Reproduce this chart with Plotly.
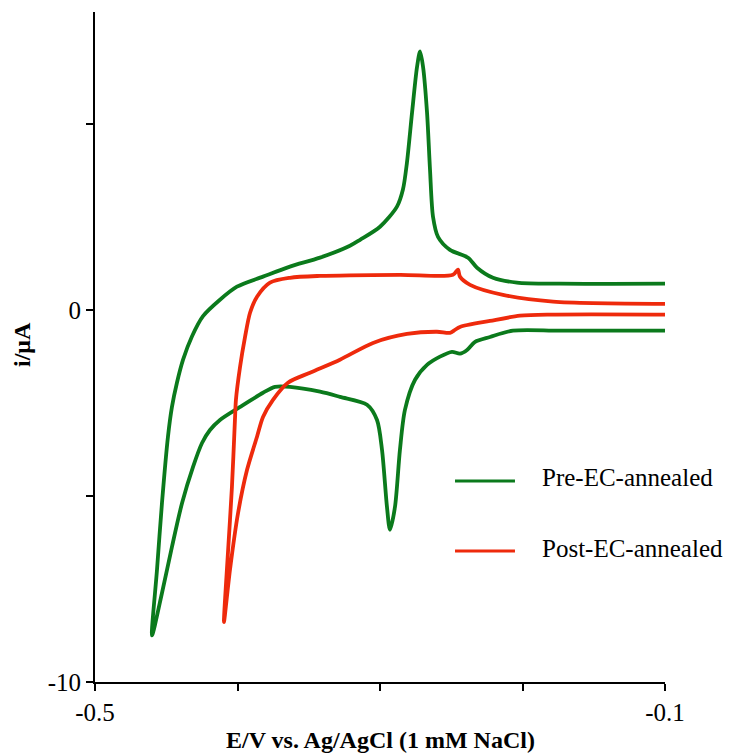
import plotly.graph_objects as go

# Pre-EC-annealed CV (green): upper branch right->left, then lower branch left->right
pre_upper_E = [-0.1, -0.1737, -0.2039, -0.2207, -0.2319, -0.2382, -0.2509, -0.2593, -0.2628, -0.2649,
               -0.267, -0.2698, -0.2719, -0.274, -0.2775, -0.2811, -0.2839, -0.2881, -0.300, -0.314,
               -0.3211, -0.3421, -0.3632, -0.3821, -0.4004, -0.4123, -0.4242, -0.4319, -0.4382, -0.4425,
               -0.446, -0.4488, -0.453, -0.4565, -0.4600]
pre_upper_i = [0.70, 0.70, 0.73, 0.86, 1.13, 1.40, 1.61, 1.96, 2.50, 3.76,
               5.30, 6.53, 6.94, 6.53, 5.30, 3.95, 3.23, 2.77, 2.23, 1.88,
               1.72, 1.40, 1.16, 0.89, 0.62, 0.27, -0.17, -0.71, -1.34, -1.96,
               -2.61, -3.41, -5.19, -6.99, -8.75]
pre_lower_E = [-0.4530, -0.446, -0.4389, -0.4312, -0.4249, -0.4193, -0.4123, -0.3982, -0.3821, -0.3737,
               -0.3632, -0.3421, -0.3281, -0.3091, -0.3021, -0.2986, -0.2951, -0.293, -0.2895, -0.286,
               -0.2825, -0.2754, -0.267, -0.2579, -0.2495, -0.2439, -0.2389, -0.2333, -0.2228, -0.2067,
               -0.1737, -0.1]
pre_lower_i = [-7.61, -6.37, -5.19, -4.22, -3.58, -3.23, -2.96, -2.61, -2.23, -2.07,
               -2.07, -2.20, -2.34, -2.55, -2.96, -3.76, -5.30, -5.91, -5.30, -3.76,
               -2.69, -1.88, -1.48, -1.26, -1.13, -1.18, -1.08, -0.86, -0.73, -0.56,
               -0.56, -0.56]

# Post-EC-annealed CV (red)
post_upper_E = [-0.1, -0.1786, -0.2137, -0.2368, -0.2439, -0.2453, -0.2488, -0.286, -0.3421, -0.3632,
                -0.3772, -0.3863, -0.3912, -0.3947, -0.3982, -0.4011, -0.4018, -0.4039, -0.4067, -0.4095]
post_upper_i = [0.16, 0.22, 0.40, 0.67, 0.89, 1.08, 0.94, 0.94, 0.91, 0.86,
                0.73, 0.35, -0.08, -0.73, -1.53, -2.42, -2.96, -4.76, -6.53, -8.39]
post_lower_E = [-0.4053, -0.3996, -0.3933, -0.3863, -0.3821, -0.3751, -0.3646, -0.3491, -0.3281, -0.3049,
                -0.2811, -0.26, -0.2509, -0.2474, -0.2439, -0.2228, -0.2018, -0.1786, -0.1]
post_lower_i = [-6.99, -5.46, -4.30, -3.41, -2.88, -2.42, -1.96, -1.69, -1.34, -0.89,
                -0.65, -0.59, -0.62, -0.54, -0.46, -0.30, -0.16, -0.13, -0.13]

series_names = ["Pre-EC-annealed", "Post-EC-annealed"]
colors = ["#0b7a1c", "#ee2a0c"]

x_ticks = [-0.5, -0.4, -0.3, -0.2, -0.1]
x_ticktext = ["-0.5", "", "", "", "-0.1"]
y_ticks = [-10, -5, 0, 5]
y_ticktext = ["-10", "", "0", ""]

FONT = "Liberation Serif"

fig = go.Figure()
fig.add_trace(go.Scatter(x=pre_upper_E + pre_lower_E, y=pre_upper_i + pre_lower_i, mode="lines",
                         line=dict(color=colors[0], width=3.8, shape="spline", smoothing=0.8),
                         name=series_names[0], showlegend=False))
fig.add_trace(go.Scatter(x=post_upper_E + post_lower_E, y=post_upper_i + post_lower_i, mode="lines",
                         line=dict(color=colors[1], width=3.8, shape="spline", smoothing=0.8),
                         name=series_names[1], showlegend=False))

fig.update_layout(
    width=729, height=756,
    margin=dict(l=95, r=64, t=12, b=74),
    paper_bgcolor="white", plot_bgcolor="white",
    font=dict(family=FONT, size=24, color="black"),
    xaxis=dict(range=[-0.5, -0.1], tickvals=x_ticks, ticktext=x_ticktext,
               showline=True, linecolor="black", linewidth=2, ticks="outside", ticklen=7,
               tickwidth=1.5, tickcolor="black", showgrid=False, zeroline=False,
               tickfont=dict(family=FONT, size=25)),
    yaxis=dict(range=[-10, 8], tickvals=y_ticks, ticktext=y_ticktext,
               showline=True, linecolor="black", linewidth=2, ticks="outside", ticklen=7,
               tickwidth=1.5, tickcolor="black", showgrid=False, zeroline=False,
               tickfont=dict(family=FONT, size=25)),
)

annotations = [
    dict(text="<b>E/V vs. Ag/AgCl (1 mM NaCl)</b>", x=0.5, y=-0.0866, xref="paper", yref="paper",
         showarrow=False, xanchor="center", yanchor="middle", font=dict(family=FONT, size=24)),
    dict(text="<b>i/μA</b>", x=-0.128, y=0.503, xref="paper", yref="paper", textangle=-90,
         showarrow=False, xanchor="center", yanchor="middle", font=dict(family=FONT, size=24)),
]
legend_y_line = [0.300, 0.1955]
legend_y_text = [0.3045, 0.200]
shapes = []
for k in range(2):
    shapes.append(dict(type="line", xref="paper", yref="paper", x0=0.6316, x1=0.7368,
                       y0=legend_y_line[k], y1=legend_y_line[k],
                       line=dict(color=colors[k], width=2.8)))
    annotations.append(dict(text=series_names[k], x=0.7807, y=legend_y_text[k], xref="paper", yref="paper",
                            showarrow=False, xanchor="left", yanchor="middle",
                            font=dict(family=FONT, size=25)))
fig.update_layout(annotations=annotations, shapes=shapes)

fig.write_html("out.html")
